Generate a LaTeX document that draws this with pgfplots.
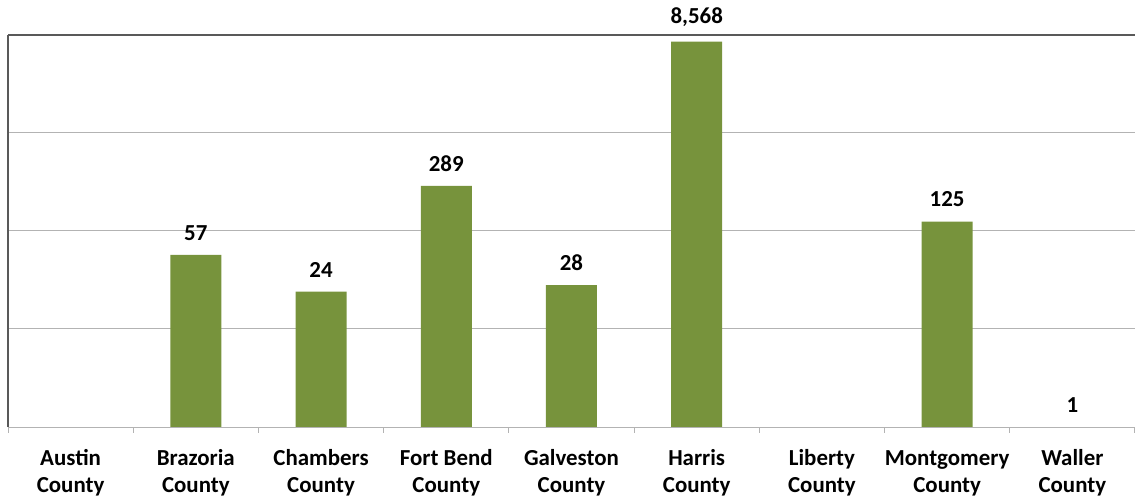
\documentclass[border=0pt]{standalone}
\usepackage{pgfplots}
\pgfplotsset{compat=1.18}
\usepackage{fontspec}
\setmainfont{Carlito}
\definecolor{barolive}{HTML}{77933C}
\definecolor{gridgray}{HTML}{B3B3B3}
\definecolor{axisdark}{HTML}{595959}
\begin{document}
\begin{tikzpicture}
\begin{axis}[
    at={(8bp,70bp)}, anchor=south west,
    scale only axis, width=1127bp, height=392bp,
    ymode=log, ymin=1, ymax=10000,
    ybar, bar width=51bp,
    xmin=-0.5, xmax=8.5,
    xtick={0,...,8},
    xticklabels={{\strut Austin\\County},{\strut Brazoria\\County},{\strut Chambers\\County},{\strut Fort Bend\\County},{\strut Galveston\\County},{\strut Harris\\County},{\strut Liberty\\County},{\strut Montgomery\\County},{\strut Waller\\County}},
    xticklabel style={align=center, font=\fontsize{23}{28}\selectfont\bfseries, yshift=-15bp},
    extra x ticks={-0.5,0.5,1.5,2.5,3.5,4.5,5.5,6.5,7.5,8.5},
    extra x tick labels={},
    extra x tick style={major tick length=6bp},
    ytick={1,10,100,1000}, yticklabels={},
    extra y ticks={10000}, extra y tick labels={},
    extra y tick style={ymajorgrids, major grid style={axisdark, line width=1.3bp}},
    ymajorgrids, major grid style={gridgray, line width=1bp},
    axis x line*=bottom, axis y line*=left,
    x axis line style={gridgray, line width=1bp, -},
    y axis line style={axisdark, line width=1.3bp, -},
    ytick style={draw=none},
    xtick style={gridgray, line width=1bp},
    tick align=outside, major tick length=0bp,
    nodes near coords, point meta=explicit symbolic,
    nodes near coords style={font=\fontsize{23}{28}\selectfont\bfseries, text=black, yshift=11bp},
]
\addplot[fill=barolive, draw=none] coordinates {
    (1,57) [57] (2,24) [24] (3,289) [289] (4,28) [28]
    (5,8568) [{8,568}] (7,125) [125] (8,1) [1]
};
\end{axis}
\pgfresetboundingbox
\path (0,0) rectangle (1135bp,497bp);
\end{tikzpicture}
\end{document}
